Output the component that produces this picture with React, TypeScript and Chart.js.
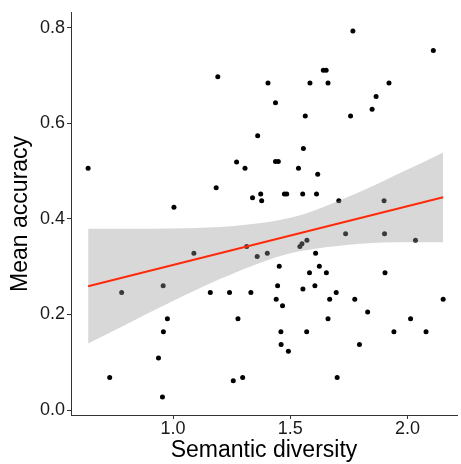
import React, { useEffect, useRef } from "react";
import { Chart, registerables } from "chart.js";

Chart.register(...registerables);

const semanticDiversity = [
  0.638, 1.191, 1.361, 1.271, 1.307, 1.184, 1.339, 1.004, 1.767, 2.110,
  1.641, 1.653, 1.405, 1.584, 1.661, 1.921, 1.437, 1.866, 1.849, 1.564,
  1.757, 1.556, 1.437, 1.449, 1.535, 1.617, 1.374, 1.378, 1.475, 1.485,
  1.553, 1.612, 1.707, 1.900, 1.089, 1.314, 1.359, 0.781, 0.958, 1.159,
  1.241, 1.332, 0.976, 1.277, 0.959, 0.938, 0.730, 1.257, 1.297, 0.955,
  1.402, 1.541, 1.550, 1.571, 1.736, 1.902, 2.034, 1.608, 1.453, 1.624,
  1.582, 1.654, 1.904, 1.446, 1.554, 1.605, 1.696, 1.440, 1.668, 1.775,
  2.152, 1.467, 1.830, 1.661, 2.013, 1.460, 1.570, 1.942, 2.079, 1.461,
  1.795, 1.492, 1.700,
];
const meanAccuracy = [
  0.506, 0.697, 0.574, 0.519, 0.506, 0.465, 0.444, 0.424, 0.793, 0.752,
  0.711, 0.711, 0.684, 0.684, 0.684, 0.684, 0.643, 0.656, 0.629, 0.615,
  0.615, 0.547, 0.520, 0.520, 0.506, 0.493, 0.452, 0.438, 0.452, 0.452,
  0.452, 0.452, 0.438, 0.438, 0.328, 0.342, 0.321, 0.246, 0.260, 0.246,
  0.246, 0.246, 0.191, 0.191, 0.164, 0.109, 0.068, 0.061, 0.068, 0.027,
  0.328, 0.342, 0.348, 0.355, 0.369, 0.369, 0.355, 0.328, 0.301, 0.301,
  0.287, 0.287, 0.287, 0.260, 0.253, 0.260, 0.246, 0.232, 0.232, 0.232,
  0.232, 0.218, 0.205, 0.191, 0.191, 0.164, 0.164, 0.164, 0.164, 0.137,
  0.137, 0.123, 0.068,
];

// fitted regression line
const fitX = [0.638, 2.152];
const fitY = [0.259, 0.445];

// confidence band edges
const bandX = [0.638, 0.8, 1.0, 1.2, 1.4, 1.5, 1.6, 1.8, 2.0, 2.152];
const bandUpper = [0.379, 0.379, 0.380, 0.383, 0.393, 0.402, 0.417, 0.457, 0.503, 0.539];
const bandLower = [0.139, 0.179, 0.228, 0.274, 0.313, 0.328, 0.337, 0.348, 0.351, 0.351];

const xTitle = "Semantic diversity";
const yTitle = "Mean accuracy";

const FONT = "'Liberation Sans', Arial, Helvetica, sans-serif";

export default function App() {
  const ref = useRef<HTMLCanvasElement | null>(null);

  useEffect(() => {
    document.body.style.margin = "0";
    const canvas = ref.current;
    if (!canvas) return;
    const pts = semanticDiversity.map((x, i) => ({ x, y: meanAccuracy[i] }));
    const line = fitX.map((x, i) => ({ x, y: fitY[i] }));
    const up = bandX.map((x, i) => ({ x, y: bandUpper[i] }));
    const lo = bandX.map((x, i) => ({ x, y: bandLower[i] }));

    const chart = new Chart(canvas, {
      type: "scatter",
      data: {
        datasets: [
          {
            data: line,
            showLine: true,
            borderColor: "#FF2A0A",
            borderWidth: 2,
            pointRadius: 0,
            fill: false,
            order: 0,
          },
          {
            data: up,
            showLine: true,
            borderWidth: 0,
            borderColor: "rgba(0,0,0,0)",
            pointRadius: 0,
            cubicInterpolationMode: "monotone",
            backgroundColor: "rgba(153,153,153,0.38)",
            fill: "+1",
            order: 1,
          },
          {
            data: lo,
            showLine: true,
            borderWidth: 0,
            borderColor: "rgba(0,0,0,0)",
            pointRadius: 0,
            cubicInterpolationMode: "monotone",
            fill: false,
            order: 2,
          },
          {
            data: pts,
            backgroundColor: "#000000",
            borderWidth: 0,
            pointRadius: 2.5,
            order: 3,
          },
        ],
      },
      options: {
        responsive: false,
        animation: false,
        layout: { padding: { top: 12, right: 0, left: 0, bottom: 0 } },
        plugins: {
          legend: { display: false },
          tooltip: { enabled: false },
        },
        scales: {
          x: {
            type: "linear",
            min: 0.565,
            max: 2.211,
            afterFit: (s: any) => {
              s.height = 49;
            },
            grid: {
              drawOnChartArea: false,
              drawTicks: true,
              tickLength: 4,
              color: "#333333",
            },
            border: { display: true, color: "#333333", width: 1 },
            ticks: {
              stepSize: 0.5,
              includeBounds: false,
              padding: -1,
              color: "#1a1a1a",
              font: { family: FONT, size: 18 },
              callback: (v: any) => Number(v).toFixed(1),
            },
            title: {
              display: true,
              text: xTitle,
              color: "#000000",
              font: { family: FONT, size: 23 },
              padding: { top: 0, bottom: 0 },
            },
          },
          y: {
            type: "linear",
            min: -0.0104,
            max: 0.831,
            afterFit: (s: any) => {
              s.width = 71;
            },
            grid: {
              drawOnChartArea: false,
              drawTicks: true,
              tickLength: 4,
              color: "#333333",
            },
            border: { display: true, color: "#333333", width: 1 },
            ticks: {
              stepSize: 0.2,
              includeBounds: false,
              padding: 2,
              color: "#1a1a1a",
              font: { family: FONT, size: 18 },
              callback: (v: any) => Number(v).toFixed(1),
            },
            title: {
              display: true,
              text: yTitle,
              color: "#000000",
              font: { family: FONT, size: 23 },
              padding: { top: 7, bottom: 0 },
            },
          },
        },
      },
    });
    return () => chart.destroy();
  }, []);

  return (
    <div style={{ position: "absolute", left: 0, top: 0 }}>
      <canvas ref={ref} width={461} height={464} style={{ display: "block" }} />
    </div>
  );
}
